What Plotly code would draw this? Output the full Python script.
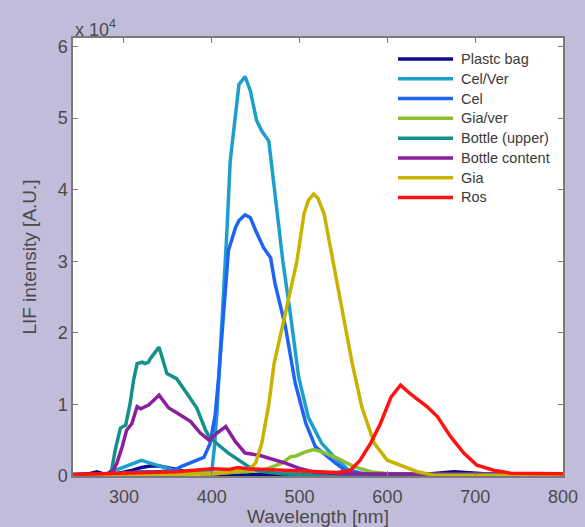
import plotly.graph_objects as go

# ---- data (wavelength [nm], intensity [x 1e4 A.U.]) ----
plastic_wl = [242, 260, 269, 280, 290, 300, 310, 320, 330, 340, 350, 360, 370, 380, 390, 400, 420, 450, 500, 550, 600, 650, 676, 690, 710, 750, 800]
plastic_val = [0.02, 0.03, 0.06, 0.02, 0.03, 0.05, 0.08, 0.12, 0.14, 0.14, 0.12, 0.09, 0.06, 0.04, 0.03, 0.03, 0.02, 0.02, 0.02, 0.02, 0.02, 0.03, 0.06, 0.05, 0.03, 0.02, 0.02]

celver_wl = [242, 280, 290, 300, 310, 320, 330, 340, 350, 360, 370, 380, 390, 400, 403, 406, 410, 415.6, 417.5, 421, 427, 431, 438, 444, 451, 457, 465, 470, 476, 481, 490, 499, 510, 525, 540, 555, 570, 600, 650, 700, 800]
celver_val = [0.01, 0.02, 0.08, 0.13, 0.18, 0.22, 0.18, 0.14, 0.10, 0.07, 0.06, 0.05, 0.05, 0.06, 0.40, 0.90, 1.75, 3.00, 3.47, 4.40, 5.10, 5.47, 5.58, 5.38, 4.97, 4.82, 4.68, 4.17, 3.47, 3.00, 2.22, 1.38, 0.82, 0.46, 0.26, 0.09, 0.04, 0.02, 0.02, 0.02, 0.02]

cel_wl = [242, 280, 300, 320, 340, 357, 365, 380, 391, 398, 404, 408, 412, 414, 419, 427, 431, 438, 444, 450, 454, 459, 467, 472, 484, 495, 507, 518, 541, 552, 570, 600, 800]
cel_val = [0.01, 0.02, 0.04, 0.06, 0.06, 0.08, 0.13, 0.20, 0.26, 0.45, 0.86, 1.40, 2.00, 2.45, 3.15, 3.47, 3.57, 3.65, 3.61, 3.43, 3.33, 3.19, 3.05, 2.69, 2.08, 1.30, 0.74, 0.41, 0.18, 0.08, 0.04, 0.02, 0.02]

giaver_wl = [242, 300, 350, 380, 400, 420, 440, 455, 465, 480, 490, 496, 505, 516, 525, 543, 556, 562, 581, 600, 650, 700, 800]
giaver_val = [0.00, 0.01, 0.02, 0.03, 0.04, 0.05, 0.06, 0.08, 0.11, 0.18, 0.27, 0.28, 0.33, 0.37, 0.34, 0.25, 0.17, 0.13, 0.06, 0.03, 0.02, 0.01, 0.01]

bottle_wl = [242, 280, 286, 290, 296, 302, 307, 311, 315, 321, 324, 328, 330, 340, 349, 360, 372, 383, 393, 397, 406, 419, 442, 453, 480, 500, 600, 800]
bottle_val = [0.02, 0.02, 0.08, 0.36, 0.67, 0.71, 1.01, 1.34, 1.57, 1.59, 1.57, 1.59, 1.64, 1.80, 1.43, 1.36, 1.15, 0.95, 0.64, 0.55, 0.45, 0.32, 0.13, 0.07, 0.03, 0.02, 0.02, 0.02]

content_wl = [242, 280, 288, 292, 298, 303, 309, 315, 319, 328, 340, 351, 362, 376, 387, 397, 406, 416, 427, 438, 454, 473, 484, 499, 518, 550, 650, 800]
content_val = [0.01, 0.02, 0.08, 0.18, 0.41, 0.64, 0.73, 0.97, 0.94, 0.99, 1.13, 0.95, 0.87, 0.76, 0.60, 0.50, 0.60, 0.69, 0.48, 0.32, 0.29, 0.22, 0.18, 0.11, 0.05, 0.03, 0.03, 0.02]

gia_wl = [242, 350, 400, 420, 444, 450, 457, 465, 471, 477, 488, 497, 505, 510, 516, 521, 528, 539, 550, 560, 571, 585, 600, 615, 634, 653, 700, 800]
gia_val = [0.01, 0.02, 0.03, 0.05, 0.11, 0.18, 0.46, 1.00, 1.57, 1.90, 2.48, 3.00, 3.66, 3.85, 3.94, 3.88, 3.66, 2.96, 2.27, 1.57, 0.96, 0.46, 0.22, 0.15, 0.06, 0.01, 0.01, 0.01]

ros_wl = [242, 280, 300, 340, 360, 380, 400, 420, 430, 440, 460, 480, 500, 520, 543, 558, 569, 581, 592, 604, 615, 626, 638, 645, 657, 672, 687, 702, 721, 740, 800]
ros_val = [0.02, 0.03, 0.04, 0.05, 0.06, 0.08, 0.10, 0.09, 0.12, 0.10, 0.09, 0.08, 0.07, 0.06, 0.05, 0.08, 0.22, 0.46, 0.73, 1.10, 1.27, 1.15, 1.03, 0.97, 0.83, 0.55, 0.32, 0.15, 0.08, 0.04, 0.03]

series = [
    ("Plastc bag", plastic_wl, plastic_val, "#0c0c8a"),
    ("Cel/Ver", celver_wl, celver_val, "#1c9fcc"),
    ("Cel", cel_wl, cel_val, "#1f63f5"),
    ("Gia/ver", giaver_wl, giaver_val, "#8cbf32"),
    ("Bottle (upper)", bottle_wl, bottle_val, "#12918c"),
    ("Bottle content", content_wl, content_val, "#8a1e9c"),
    ("Gia", gia_wl, gia_val, "#c8b400"),
    ("Ros", ros_wl, ros_val, "#ff1212"),
]

axis_col = "#7a7a7a"
txt_col = "#4a4a4a"
font_fam = "Liberation Sans, Arial, sans-serif"
LW = 3.5

fig = go.Figure()
for name, x, y, c in series:
    fig.add_trace(go.Scatter(x=x, y=y, name=name, mode="lines",
                             line=dict(color=c, width=LW), showlegend=False))

# ---- manual legend (plot-area fractions) ----
plot_w, plot_h = 490.0, 438.3
leg_x0, leg_x1, leg_tx = 325.0 / plot_w, 380.0 / plot_w, 386.0 / plot_w
leg_top, leg_step = 21.0, 19.8
shapes, annotations = [], []
for i, (name, _, _, c) in enumerate(series):
    yp = 1 - (leg_top + i * leg_step) / plot_h
    shapes.append(dict(type="line", xref="paper", yref="paper",
                       x0=leg_x0, x1=leg_x1, y0=yp, y1=yp,
                       line=dict(color=c, width=LW)))
    annotations.append(dict(text=name, xref="paper", yref="paper",
                            x=leg_tx, y=yp, xanchor="left", yanchor="middle",
                            showarrow=False, font=dict(size=14.5, color="#3a3a3a")))

annotations.append(dict(text="x 10<sup>4</sup>", xref="paper", yref="paper",
                        x=0.0, y=1.0, xanchor="left", yanchor="bottom", yshift=-4,
                        showarrow=False, font=dict(size=18, color=txt_col)))

fig.update_layout(
    width=585, height=527,
    margin=dict(l=73, r=22, t=38, b=51, autoexpand=False),
    paper_bgcolor="#c2bcdb",
    plot_bgcolor="white",
    font=dict(family=font_fam, color=txt_col, size=18),
    showlegend=False,
    shapes=shapes,
    annotations=annotations,
    xaxis=dict(range=[242, 800], tickvals=[300, 400, 500, 600, 700, 800],
               automargin=False,
               showgrid=False, zeroline=False, showline=True, linecolor=axis_col,
               linewidth=1.5, mirror="ticks", ticks="inside", ticklen=5,
               tickcolor=axis_col, tickfont=dict(size=18, color=txt_col),
               ticklabelstandoff=4,
               title=dict(text="Wavelength [nm]", font=dict(size=19, color=txt_col), standoff=6)),
    yaxis=dict(range=[0, 6.12], tickvals=[0, 1, 2, 3, 4, 5, 6],
               automargin=False,
               showgrid=False, zeroline=False, showline=True, linecolor=axis_col,
               linewidth=1.5, mirror="ticks", ticks="inside", ticklen=5,
               tickcolor=axis_col, tickfont=dict(size=18, color=txt_col),
               title=dict(text="LIF intensity [A.U.]", font=dict(size=19, color=txt_col), standoff=16)),
)

fig.write_html("out.html")
